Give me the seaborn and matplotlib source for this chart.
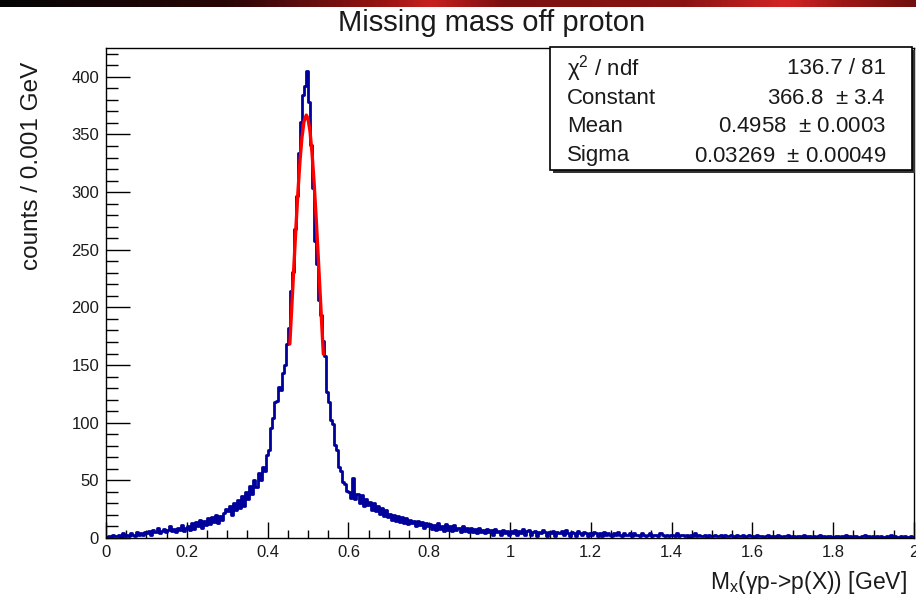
import numpy as np
import pandas as pd
import matplotlib
matplotlib.use("Agg")
import matplotlib.pyplot as plt
from matplotlib.colors import LinearSegmentedColormap
from matplotlib.patches import Rectangle
from matplotlib.ticker import MultipleLocator, FuncFormatter
import seaborn as sns

# ---------------- data ----------------
BIN_WIDTH = 0.005
counts_000_010 = [1, 2, 1, 3, 2, 2, 3, 1, 4, 2, 3, 2, 4, 3, 2, 5, 3, 4, 3, 5]
counts_010_020 = [4, 6, 3, 7, 5, 9, 4, 6, 8, 5, 7, 10, 6, 8, 5, 9, 7, 11, 6, 9]
counts_020_030 = [10, 7, 13, 8, 14, 10, 16, 9, 15, 11, 17, 12, 18, 14, 20, 13, 19, 16, 22, 25]
counts_030_040 = [23, 28, 20, 30, 24, 33, 26, 36, 28, 40, 34, 45, 38, 50, 44, 56, 50, 62, 58, 72]
counts_040_050 = [76, 95, 104, 118, 119, 131, 128, 143, 150, 168, 182, 214, 231, 268, 297, 334, 361, 384, 392, 405]
counts_050_060 = [378, 341, 304, 258, 238, 206, 193, 171, 158, 127, 118, 102, 99, 81, 76, 62, 58, 49, 47, 41]
counts_060_070 = [40, 35, 52, 34, 38, 30, 37, 28, 34, 29, 31, 24, 30, 23, 28, 21, 26, 19, 24, 18]
counts_070_080 = [21, 16, 20, 15, 19, 14, 18, 13, 17, 12, 16, 13, 15, 10, 15, 11, 14, 9, 13, 10]
counts_080_090 = [12, 8, 11, 7, 13, 8, 10, 6, 12, 7, 10, 6, 11, 7, 9, 5, 10, 6, 9, 5]
counts_090_100 = [9, 5, 8, 4, 9, 5, 7, 4, 8, 5, 7, 3, 8, 5, 6, 3, 7, 4, 6, 3]
counts_100_110 = [6, 4, 7, 3, 6, 4, 8, 3, 6, 7, 3, 5, 6, 2, 5, 4, 7, 5, 2, 5]
counts_110_120 = [4, 6, 2, 5, 4, 6, 3, 7, 4, 2, 5, 4, 2, 6, 4, 3, 5, 4, 2, 4]
counts_120_130 = [3, 5, 4, 2, 4, 2, 5, 3, 4, 3, 2, 4, 3, 5, 3, 2, 4, 3, 3, 4]
counts_130_140 = [2, 4, 3, 3, 2, 4, 3, 2, 3, 4, 2, 3, 3, 2, 4, 3, 2, 3, 2, 3]
counts_140_150 = [3, 2, 4, 2, 3, 3, 2, 3, 1, 3, 2, 4, 2, 3, 2, 2, 3, 1, 3, 2]
counts_150_160 = [2, 3, 2, 2, 3, 1, 3, 2, 2, 3, 2, 1, 3, 2, 2, 3, 1, 2, 3, 2]
counts_160_170 = [2, 1, 3, 2, 2, 1, 2, 3, 1, 2, 2, 1, 3, 2, 1, 2, 2, 3, 1, 2]
counts_170_180 = [2, 1, 2, 2, 1, 3, 1, 2, 2, 1, 2, 1, 2, 3, 1, 2, 1, 2, 2, 1]
counts_180_190 = [1, 2, 2, 1, 2, 1, 3, 1, 2, 1, 2, 2, 1, 1, 2, 3, 1, 2, 1, 2]
counts_190_200 = [1, 2, 1, 2, 1, 1, 2, 1, 3, 1, 2, 1, 1, 2, 1, 2, 1, 1, 2, 1]

counts = (counts_000_010 + counts_010_020 + counts_020_030 + counts_030_040 +
          counts_040_050 + counts_050_060 + counts_060_070 + counts_070_080 +
          counts_080_090 + counts_090_100 + counts_100_110 + counts_110_120 +
          counts_120_130 + counts_130_140 + counts_140_150 + counts_150_160 +
          counts_160_170 + counts_170_180 + counts_180_190 + counts_190_200)

# Gaussian fit curve
fit_x = [0.455, 0.460, 0.465, 0.470, 0.475, 0.480, 0.485, 0.490, 0.4958,
         0.500, 0.505, 0.510, 0.515, 0.520, 0.525, 0.530, 0.535, 0.538]
fit_y = [168.3, 201.3, 235.3, 268.6, 299.6, 326.4, 347.3, 361.1, 366.8,
         363.8, 352.6, 333.8, 308.7, 278.9, 246.1, 212.2, 178.7, 159.5]

stat_names = ["χ$^{\\mathregular{2}}$ / ndf", "Constant", "Mean", "Sigma"]
stat_values = ["136.7 / 81", "366.8  $\\pm$ 3.4", "0.4958  $\\pm$ 0.0003", "0.03269  $\\pm$ 0.00049"]

x_ticks = [0, 0.2, 0.4, 0.6, 0.8, 1.0, 1.2, 1.4, 1.6, 1.8, 2.0]
y_ticks = [0, 50, 100, 150, 200, 250, 300, 350, 400]

title = "Missing mass off proton"
xlabel = "M$_\\mathregular{x}$(γp->p(X)) [GeV]"
ylabel = "counts / 0.001 GeV"

# ---------------- styling ----------------
sns.set_style("white")
plt.rcParams["font.family"] = ["Liberation Sans", "DejaVu Sans"]
plt.rcParams["mathtext.fontset"] = "custom"
plt.rcParams["mathtext.rm"] = "Liberation Sans"
plt.rcParams["mathtext.it"] = "Liberation Sans:italic"

BLUE = "#00009a"
RED = "#ff0000"
TXT = "#1a1a1a"

W, H = 916, 596
fig = plt.figure(figsize=(W / 100, H / 100), dpi=100)
fig.patch.set_facecolor("white")

def fx(px):
    return px / W

def fy(py):
    return 1 - py / H

# top banner strip (screenshot decoration)
bax = fig.add_axes([0, fy(7), 1, 7 / H])
bcmap = LinearSegmentedColormap.from_list(
    "banner", [(0, "#050505"), (0.25, "#2a0606"), (0.42, "#9a1414"), (0.47, "#c82020"),
               (0.55, "#7a1010"), (0.75, "#8a1414"), (0.86, "#d42424"), (0.92, "#a01818"),
               (1.0, "#701010")])
bax.imshow(np.linspace(0, 1, 400)[None, :], aspect="auto", cmap=bcmap, extent=[0, 1, 0, 1])
bax.set_axis_off()

left, right, top, bottom = 106, 914, 48, 538
ax = fig.add_axes([fx(left), fy(bottom), (right - left) / W, (bottom - top) / H])

centers = [round((i + 0.5) * BIN_WIDTH, 4) for i in range(len(counts))]
edges = [round(i * BIN_WIDTH, 4) for i in range(len(counts) + 1)]
df = pd.DataFrame({"mass": centers, "counts": counts})

sns.histplot(data=df, x="mass", weights="counts", bins=edges, element="step",
             fill=False, color=BLUE, linewidth=2.0, ax=ax)
sns.lineplot(x=fit_x, y=fit_y, color=RED, linewidth=2.4, sort=False, ax=ax)

ax.set_xlim(0, 2)
ax.set_ylim(0, 425)
ax.set_xticks(x_ticks)
ax.set_yticks(y_ticks)
ax.xaxis.set_major_formatter(FuncFormatter(lambda v, p: f"{v:g}"))
ax.xaxis.set_minor_locator(MultipleLocator(0.05))
ax.yaxis.set_minor_locator(MultipleLocator(10))
ax.tick_params(axis="x", which="major", direction="in", length=11.5, width=1, pad=5,
               labelsize=12, labelcolor=TXT, color="black", bottom=True, top=False)
ax.tick_params(axis="x", which="minor", direction="in", length=5.8, width=1,
               color="black", bottom=True, top=False)
ax.tick_params(axis="y", which="major", direction="in", length=17, width=1, pad=5,
               labelsize=12, labelcolor=TXT, color="black", left=True, right=False)
ax.tick_params(axis="y", which="minor", direction="in", length=8.6, width=1,
               color="black", left=True, right=False)
for s in ax.spines.values():
    s.set_color("black")
    s.set_linewidth(1.0)
    s.set_visible(True)

ax.set_xlabel(xlabel, fontsize=16.5, color=TXT, loc="right")
ax.xaxis.set_label_coords((907 - left) / (right - left), (bottom - 569) / (bottom - top))
ax.set_ylabel(ylabel, fontsize=17.5, color=TXT, loc="top")
ax.yaxis.set_label_coords((43 - left) / (right - left), (bottom - 62) / (bottom - top))

fig.text(fx(492), fy(23), title, ha="center", va="center", fontsize=21, color=TXT)

# stats box
bx0, bx1, by0, by1 = 550, 912, 47, 170
fig.patches.append(Rectangle((fx(bx0 + 3), fy(by1 + 3)), (bx1 - bx0) / W, (by1 - by0) / H,
                             transform=fig.transFigure, facecolor="#333333",
                             edgecolor="none", zorder=5))
fig.patches.append(Rectangle((fx(bx0), fy(by1)), (bx1 - bx0) / W, (by1 - by0) / H,
                             transform=fig.transFigure, facecolor="white",
                             edgecolor="black", linewidth=1.2, zorder=6))
row_y = [69, 98, 127, 156]
for name, val, yy in zip(stat_names, stat_values, row_y):
    fig.text(fx(567), fy(yy), name, ha="left", va="center", fontsize=16, color=TXT, zorder=7)
    fig.text(fx(886), fy(yy), val, ha="right", va="center", fontsize=16, color=TXT, zorder=7)

fig.savefig("out.png", dpi=100, facecolor="white")
